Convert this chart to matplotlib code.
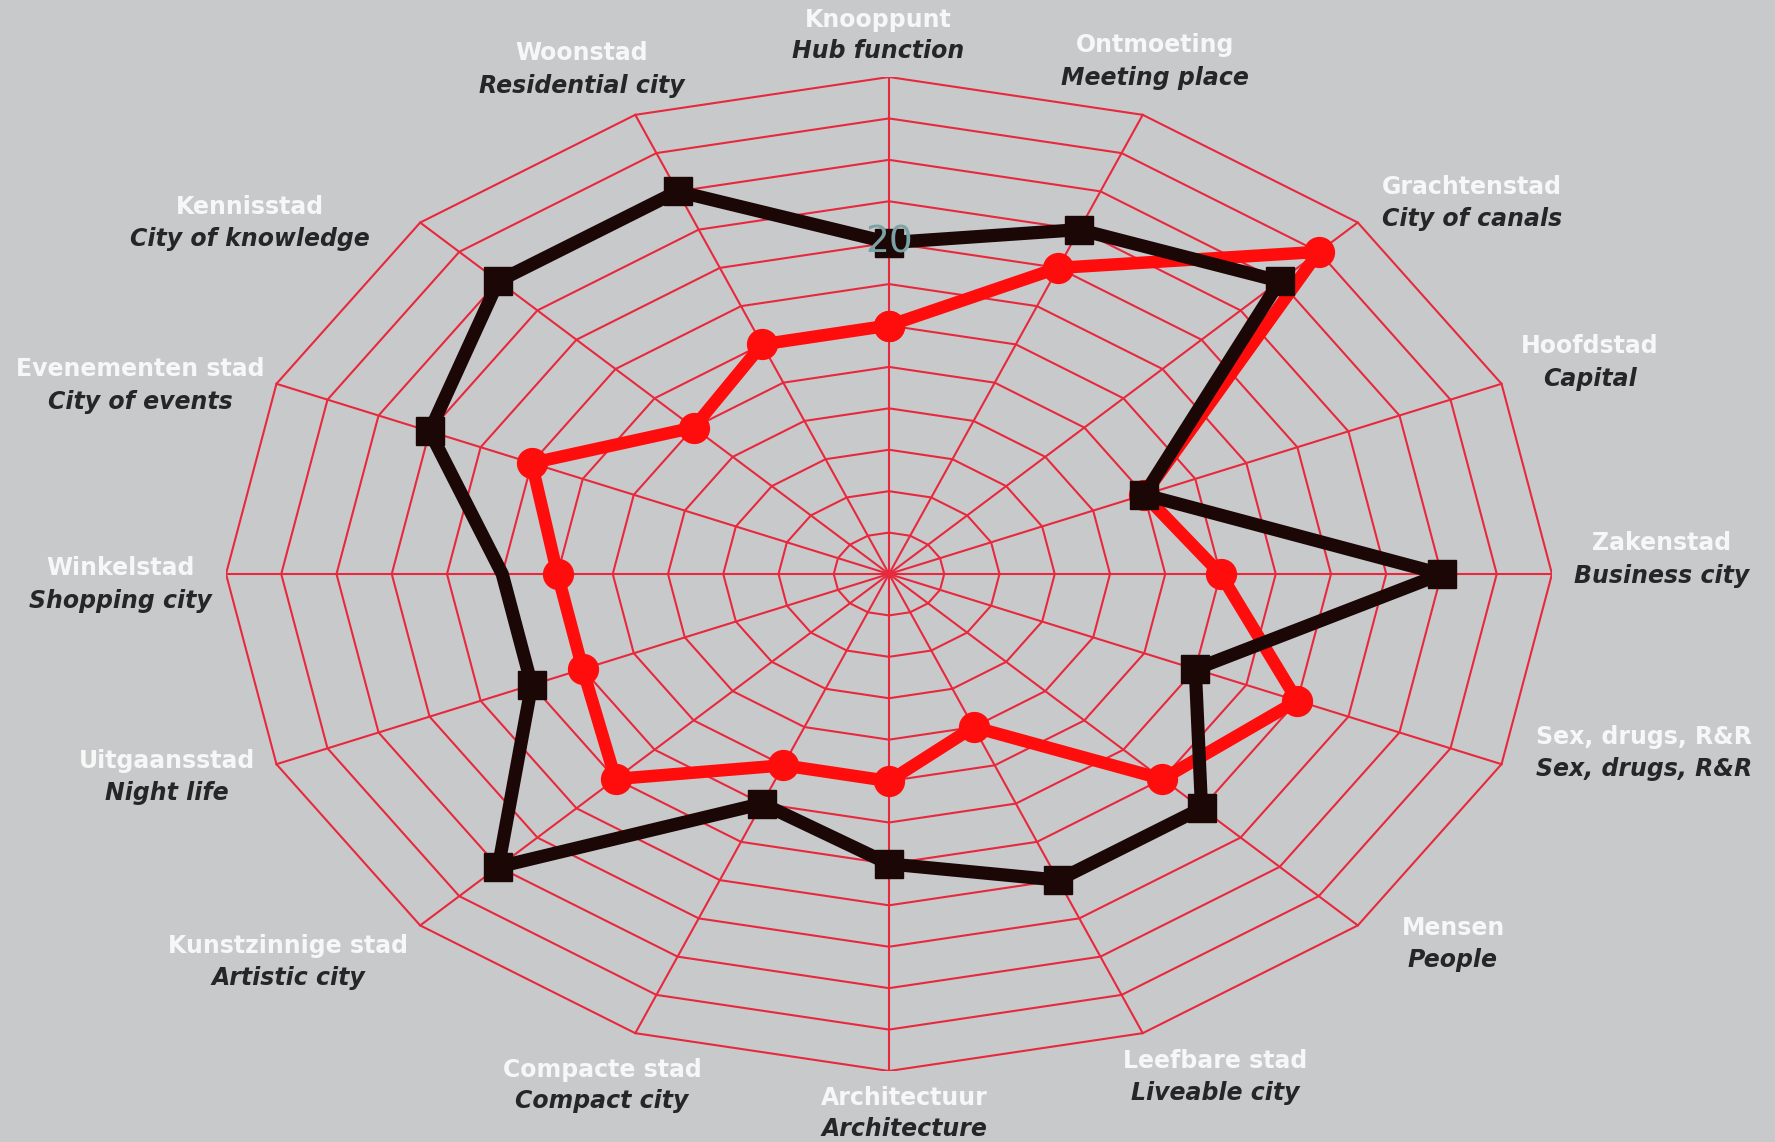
import numpy as np
import matplotlib
matplotlib.use("Agg")
import matplotlib.pyplot as plt

# ---------------- data ----------------
dutch_labels = ["Knooppunt", "Ontmoeting", "Grachtenstad", "Hoofdstad", "Zakenstad",
                "Sex, drugs, R&R", "Mensen", "Leefbare stad", "Architectuur",
                "Compacte stad", "Kunstzinnige stad", "Uitgaansstad", "Winkelstad",
                "Evenementen stad", "Kennisstad", "Woonstad"]
english_labels = ["Hub function", "Meeting place", "City of canals", "Capital",
                  "Business city", "Sex, drugs, R&R", "People", "Liveable city",
                  "Architecture", "Compact city", "Artistic city", "Night life",
                  "Shopping city", "City of events", "City of knowledge",
                  "Residential city"]
black_values = [20, 22.5, 25, 12.5, 25, 15, 20, 20, 17.5, 15, 25, 17.5, 17.5, 22.5, 25, 25]
red_values = [15, 20, 27.5, 12.5, 15, 20, 17.5, 10, 12.5, 12.5, 17.5, 15, 15, 17.5, 12.5, 15]
ring_values = [2.5, 5, 7.5, 10, 12.5, 15, 17.5, 20, 22.5, 25, 27.5, 30]
tick_value = 20
tick_text = "20"

# ---------------- layout / style ----------------
W, H = 1775, 1142
bg = "#c8c9cb"
grid_color = "#e8283c"
red_color = "#ff0d0d"
black_color = "#1c0707"
r_max = ring_values[-1]
# label anchor positions in pixels (x, y of Dutch line, y of English line)
label_pos = [(878, 20, 51), (1155, 45, 78), (1472, 187, 219), (1590, 346, 379),
             (1662, 543, 576), (1644, 737, 769), (1453, 928, 960), (1215, 1061, 1093),
             (904, 1098, 1129), (602, 1070, 1101), (288, 946, 978), (167, 761, 793),
             (120, 568, 601), (140, 369, 402), (250, 207, 239), (582, 53, 86)]
black_no_marker = [12]

fig = plt.figure(figsize=(W / 100, H / 100), dpi=100)
fig.patch.set_facecolor(bg)
ax = fig.add_axes([226 / W, (H - 1071) / H, 1326 / W, 994 / H])
ax.set_xlim(-r_max, r_max)
ax.set_ylim(-r_max, r_max)
ax.axis("off")

n = len(dutch_labels)
theta = np.arange(n) * 2 * np.pi / n


def to_xy(vals):
    v = np.asarray(vals, dtype=float)
    x = v * np.sin(theta)
    y = v * np.cos(theta)
    return np.append(x, x[0]), np.append(y, y[0])


# grid rings
for rv in ring_values:
    gx, gy = to_xy([rv] * n)
    ax.plot(gx, gy, color=grid_color, lw=1.5, zorder=1)
# spokes
for t in theta:
    ax.plot([0, r_max * np.sin(t)], [0, r_max * np.cos(t)], color=grid_color, lw=1.5, zorder=1)

# red series
rx, ry = to_xy(red_values)
ax.plot(rx, ry, color=red_color, lw=9, marker="o", ms=21.5, mfc=red_color, mec=red_color,
        zorder=3, clip_on=False)

# black series
bx, by = to_xy(black_values)
marks = [i for i in range(n) if i not in black_no_marker]
ax.plot(bx, by, color=black_color, lw=9.5, marker="s", ms=20.5, mfc=black_color,
        mec=black_color, markevery=marks, zorder=4, clip_on=False)

# radial tick label
ax.text(0, tick_value, tick_text, color="#7aa3a5", fontsize=27, ha="center", va="center",
        zorder=5)

# category labels
for (px, py1, py2), dl, el in zip(label_pos, dutch_labels, english_labels):
    fig.text(px / W, 1 - py1 / H, dl, color="#f7f7f7", fontsize=17, fontweight="bold",
             ha="center", va="center")
    fig.text(px / W, 1 - py2 / H, el, color="#262626", fontsize=17, fontweight="bold",
             fontstyle="italic", ha="center", va="center")

fig.savefig("out.png", dpi=100, facecolor=bg)
